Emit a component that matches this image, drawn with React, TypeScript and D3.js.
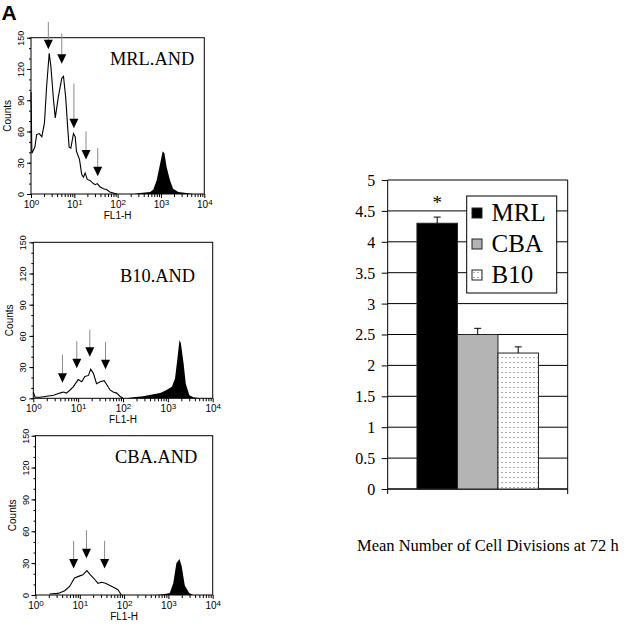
import React, { useEffect, useRef } from 'react';
import * as d3 from 'd3';

// histogram traces: [log10(FL1-H), counts]
const mrlCurve = [
  [0.0, 98], [0.02, 39], [0.09, 45], [0.13, 57], [0.19, 58], [0.25, 55], [0.31, 68], [0.36, 103],
  [0.42, 135], [0.46, 122], [0.52, 90], [0.56, 73], [0.63, 93], [0.71, 111], [0.75, 113], [0.80, 93],
  [0.85, 62], [0.88, 45], [0.92, 44], [0.98, 58], [1.02, 55], [1.05, 41], [1.12, 33], [1.17, 19],
  [1.21, 16], [1.25, 20], [1.30, 14], [1.36, 13], [1.44, 10], [1.48, 9], [1.53, 10], [1.59, 7],
  [1.67, 5], [1.75, 4], [1.82, 2], [1.90, 1], [1.98, 0],
];
const mrlPeak = [
  [2.36, 0], [2.52, 1], [2.75, 2], [2.82, 4], [2.90, 13], [2.98, 29], [3.04, 41], [3.08, 39],
  [3.13, 26], [3.21, 13], [3.28, 5], [3.40, 2], [3.59, 1], [3.75, 0],
];
// [log10(FL1-H), stem top count, arrow tip count]
const mrlArrows = [[0.40, 165, 139], [0.71, 154, 125], [0.99, 106, 63], [1.27, 60, 33], [1.54, 44, 17]];

const b10Curve = [
  [0.0, 6], [0.04, 1], [0.15, 1], [0.30, 2], [0.45, 3], [0.59, 5], [0.67, 6], [0.74, 5], [0.82, 8],
  [0.89, 11], [1.0, 18], [1.08, 16], [1.15, 21], [1.23, 22], [1.28, 28], [1.34, 24], [1.41, 14],
  [1.49, 16], [1.58, 17], [1.64, 13], [1.71, 8], [1.78, 6], [1.86, 5], [1.93, 2], [2.0, 0],
];
const b10Peak = [
  [2.08, 0], [2.23, 1], [2.45, 2], [2.68, 4], [2.83, 5], [2.97, 8], [3.09, 11], [3.16, 19],
  [3.21, 37], [3.26, 56], [3.29, 53], [3.35, 34], [3.40, 14], [3.48, 3], [3.57, 1], [3.72, 0],
];
const b10Arrows = [[0.65, 42, 15], [0.97, 55, 29], [1.26, 66, 40], [1.61, 54, 28]];

const cbaCurve = [
  [0.32, 1], [0.51, 1.5], [0.66, 4], [0.77, 8], [0.88, 16], [1.0, 18], [1.07, 19], [1.16, 23],
  [1.24, 19], [1.31, 16], [1.41, 11], [1.49, 12], [1.58, 11], [1.68, 9], [1.77, 7], [1.86, 5], [1.94, 0],
];
const cbaPeak = [
  [2.73, 0], [2.92, 1], [3.03, 2], [3.11, 11], [3.18, 30], [3.25, 34], [3.30, 27], [3.37, 9],
  [3.47, 2], [3.56, 0],
];
const cbaArrows = [[0.86, 51, 25], [1.15, 61, 34.5], [1.56, 51, 25]];

const countTicks = [0, 30, 60, 90, 120, 150];
const decades = [0, 1, 2, 3, 4];

const strains = ['MRL', 'CBA', 'B10'];
const meanDivisions = [4.3, 2.5, 2.2];
const divisionErr = [0.1, 0.1, 0.1];
const divisionTicks = [0, 0.5, 1, 1.5, 2, 2.5, 3, 3.5, 4, 4.5, 5];

const panels = [
  { name: 'MRL.AND', curve: mrlCurve, peak: mrlPeak, arrows: mrlArrows,
    left: 31, right: 204.3, top: 37.7, bottom: 194, labelX: 110, labelY: 65 },
  { name: 'B10.AND', curve: b10Curve, peak: b10Peak, arrows: b10Arrows,
    left: 33.3, right: 212.7, top: 242.3, bottom: 398.3, labelX: 120, labelY: 281.7 },
  { name: 'CBA.AND', curve: cbaCurve, peak: cbaPeak, arrows: cbaArrows,
    left: 35.5, right: 212.7, top: 435.7, bottom: 595, labelX: 115, labelY: 463.3 },
];

const SANS = 'Liberation Sans, Arial, sans-serif';
const SERIF = 'Liberation Serif, Times New Roman, serif';

const drawPanel = (svg, p) => {
  const x = d3.scaleLinear().domain([0, 4]).range([p.left, p.right]);
  const y = d3.scaleLinear().domain([0, 150]).range([p.bottom, p.top]);
  const g = svg.append('g');

  // minor + major ticks on counts axis
  g.append('g').attr('transform', `translate(${p.left},0)`)
    .call(d3.axisLeft(y).tickValues(d3.range(0, 151, 10)).tickSize(2).tickFormat(() => ''))
    .call(a => a.select('.domain').remove());
  g.append('g').attr('transform', `translate(${p.left},0)`)
    .call(d3.axisLeft(y).tickValues(countTicks).tickSize(4).tickFormat(d => String(d)))
    .call(a => a.select('.domain').remove())
    .call(a => a.selectAll('.tick text')
      .attr('transform', 'rotate(-90)')
      .attr('x', 0).attr('y', -7).attr('dy', 0)
      .attr('text-anchor', 'middle')
      .attr('font-size', 9).attr('font-family', SANS));

  // log decade axis
  const minors = decades.slice(0, -1).flatMap(n => d3.range(2, 10).map(k => n + Math.log10(k)));
  g.append('g').attr('transform', `translate(0,${p.bottom})`)
    .call(d3.axisBottom(x).tickValues(minors).tickSize(3).tickFormat(() => ''))
    .call(a => a.select('.domain').remove());
  g.append('g').attr('transform', `translate(0,${p.bottom})`)
    .call(d3.axisBottom(x).tickValues(decades).tickSize(4).tickPadding(3))
    .call(a => a.select('.domain').remove())
    .call(a => a.selectAll('.tick text').each(function (d) {
      const t = d3.select(this);
      t.text(null).attr('font-family', SANS).attr('font-size', 10);
      t.append('tspan').text('10');
      t.append('tspan').attr('dy', '-0.45em').attr('font-size', 8).text(d);
    }));
  g.selectAll('.tick line').attr('stroke', '#000');

  g.append('text').attr('x', (p.left + p.right) / 2).attr('y', p.bottom + 25)
    .attr('text-anchor', 'middle').attr('font-family', SANS).attr('font-size', 10).text('FL1-H');
  g.append('text')
    .attr('transform', `translate(${p.left - 20},${(p.top + p.bottom) / 2}) rotate(-90)`)
    .attr('text-anchor', 'middle').attr('font-family', SANS).attr('font-size', 10).text('Counts');

  // filled marker peak and open division profile
  g.append('path').datum(p.peak).attr('fill', '#000')
    .attr('d', d3.area().x(d => x(d[0])).y0(y(0)).y1(d => y(d[1])));
  g.append('path').datum(p.curve).attr('fill', 'none').attr('stroke', '#000').attr('stroke-width', 1.1)
    .attr('d', d3.line().x(d => x(d[0])).y(d => y(d[1])));

  g.append('rect').attr('x', p.left).attr('y', p.top)
    .attr('width', p.right - p.left).attr('height', p.bottom - p.top)
    .attr('fill', 'none').attr('stroke', '#000').attr('stroke-width', 1);

  g.append('text').attr('x', p.labelX).attr('y', p.labelY)
    .attr('font-family', SERIF).attr('font-size', 18.4).text(p.name);

  // division arrows
  p.arrows.forEach(([lx, top, tip]) => {
    const ax = x(lx), ty = y(tip);
    g.append('line').attr('x1', ax).attr('x2', ax).attr('y1', y(top)).attr('y2', ty - 9)
      .attr('stroke', '#8a8a8a').attr('stroke-width', 1);
    g.append('path').attr('fill', '#000')
      .attr('d', `M${ax - 4.5},${ty - 9.5}L${ax + 4.5},${ty - 9.5}L${ax},${ty}Z`);
  });
};

const drawBars = (svg) => {
  const left = 387.7, right = 567.7, top = 180, bottom = 489;
  const y = d3.scaleLinear().domain([0, 5]).range([bottom, top]);
  const x = d3.scaleBand().domain(strains).range([left, right]).paddingInner(0).paddingOuter(0.722);
  const g = svg.append('g');

  const defs = svg.append('defs');
  const pat = defs.append('pattern').attr('id', 'dots').attr('patternUnits', 'userSpaceOnUse')
    .attr('width', 4).attr('height', 5);
  pat.append('rect').attr('width', 4).attr('height', 5).attr('fill', '#fff');
  pat.append('rect').attr('x', 1.5).attr('y', 2).attr('width', 1).attr('height', 1).attr('fill', '#555');

  // gridlines
  g.append('g').selectAll('line').data(divisionTicks).join('line')
    .attr('x1', left).attr('x2', right).attr('y1', d => y(d)).attr('y2', d => y(d))
    .attr('stroke', '#000').attr('stroke-width', 1);
  g.append('g').attr('transform', `translate(${left},0)`)
    .call(d3.axisLeft(y).tickValues(divisionTicks).tickSize(6).tickPadding(6.5).tickFormat(d => String(d)))
    .call(a => a.select('.domain').remove())
    .call(a => a.selectAll('.tick text').attr('font-family', SERIF).attr('font-size', 16).attr('dy', '0.34em'));
  g.selectAll('.tick line').attr('stroke', '#000');

  g.append('line').attr('x1', left).attr('x2', left).attr('y1', top).attr('y2', bottom).attr('stroke', '#000');
  g.append('line').attr('x1', right).attr('x2', right).attr('y1', top).attr('y2', bottom).attr('stroke', '#000');
  g.append('line').attr('x1', left).attr('x2', right).attr('y1', bottom).attr('y2', bottom).attr('stroke', '#000');
  [left, right].forEach(v => g.append('line').attr('x1', v).attr('x2', v)
    .attr('y1', bottom).attr('y2', bottom + 5).attr('stroke', '#000'));

  const fills = ['#000', '#b4b4b4', 'url(#dots)'];
  strains.forEach((s, i) => {
    const v = meanDivisions[i], e = divisionErr[i];
    const cx = x(s) + x.bandwidth() / 2;
    g.append('rect').attr('x', x(s)).attr('y', y(v)).attr('width', x.bandwidth()).attr('height', bottom - y(v))
      .attr('fill', fills[i]).attr('stroke', '#222').attr('stroke-width', 1);
    g.append('line').attr('x1', cx).attr('x2', cx).attr('y1', y(v)).attr('y2', y(v + e)).attr('stroke', '#000');
    g.append('line').attr('x1', cx - 3.5).attr('x2', cx + 3.5).attr('y1', y(v + e)).attr('y2', y(v + e)).attr('stroke', '#000');
  });

  const mx = x('MRL') + x.bandwidth() / 2;
  g.append('text').attr('x', mx).attr('y', y(meanDivisions[0] + divisionErr[0]) - 8)
    .attr('text-anchor', 'middle').attr('font-family', SERIF).attr('font-size', 19).text('*');

  // legend
  const lg = g.append('g');
  lg.append('rect').attr('x', 466.7).attr('y', 196).attr('width', 90).attr('height', 97)
    .attr('fill', '#fff').attr('stroke', '#000');
  strains.forEach((s, i) => {
    const base = 221 + i * 31;
    lg.append('rect').attr('x', 472).attr('y', base - 13).attr('width', 10).attr('height', 10)
      .attr('fill', fills[i]).attr('stroke', '#222');
    lg.append('text').attr('x', 491.5).attr('y', base).attr('font-family', SERIF).attr('font-size', 25).text(s);
  });

  g.append('text').attr('x', 357).attr('y', 551).attr('font-family', SERIF).attr('font-size', 16.5)
    .text('Mean Number of Cell Divisions at 72 h');
};

export default function App() {
  const ref = useRef(null);

  useEffect(() => {
    const svg = d3.select(ref.current);
    svg.selectAll('*').remove();
    svg.append('rect').attr('width', 640).attr('height', 626).attr('fill', '#fff');
    svg.append('text').attr('x', 1.5).attr('y', 20).attr('font-family', SANS)
      .attr('font-weight', 'bold').attr('font-size', 21).text('A');
    panels.forEach(p => drawPanel(svg, p));
    drawBars(svg);
  }, []);

  return (
    <svg ref={ref} width={640} height={626}
      style={{ position: 'absolute', left: 0, top: 0, display: 'block' }} />
  );
}
